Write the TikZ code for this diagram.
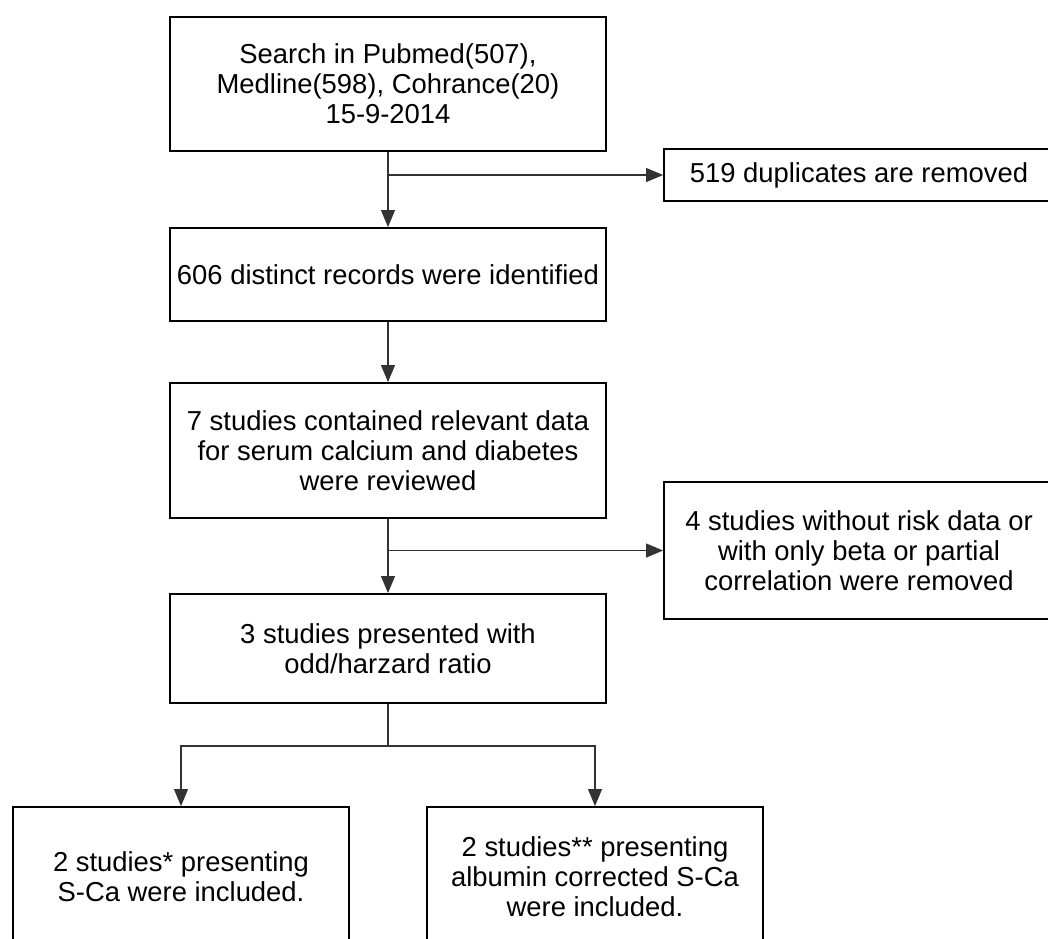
\documentclass[tikz,border=0pt]{standalone}
\usepackage{fontspec}
\setmainfont{Liberation Sans}
\usetikzlibrary{arrows.meta}
\tikzset{%
  flowbox/.style  = {shape=rectangle, draw, line width=1.1pt, align=center,%
                     inner sep=0pt, minimum width=8.74cm,%
                     font=\fontsize{15.6}{17}\selectfont},%
  sidebox/.style  = {flowbox, minimum width=7.8cm},%
  endbox/.style   = {flowbox, minimum width=6.72cm, minimum height=2.8cm},%
  flowarrow/.style = {draw=black!80, line width=0.6pt,%
                      -{Triangle[length=0.34cm,width=0.28cm]}}%
}
\begin{document}
\begin{tikzpicture}[x=0.02cm,y=-0.02cm]
	\useasboundingbox [fill=white] (0,0) rectangle (1048,938);
	\clip (0,0) rectangle (1048,938);
		\node [flowbox, minimum height=2.68cm] (search) at (388,84)
			{Search in Pubmed(507),\\Medline(598), Cohrance(20)\\15-9-2014};
		\node [sidebox, minimum height=1.04cm] (dupl) at (859,175)
			{519 duplicates are removed};
		\node [flowbox, minimum height=1.86cm] (distinct) at (388,274.5)
			{606 distinct records were identified};
		\node [flowbox, minimum height=2.7cm] (relevant) at (388,450.5)
			{7 studies contained relevant data\\for serum calcium and diabetes\\were reviewed};
		\node [sidebox, minimum height=2.74cm] (norisk) at (859,550.5)
			{4 studies without risk data or\\with only beta or partial\\correlation were removed};
		\node [flowbox, minimum height=2.18cm] (ratio) at (388,648.5)
			{3 studies presented with\\odd/harzard ratio};
		\node [endbox] (sca) at (181,877)
			{2 studies* presenting\\S-Ca were included.};
		\node [endbox] (albsca) at (595,877)
			{2 studies** presenting\\albumin corrected S-Ca\\were included.};
		\coordinate (split) at (388,746);
	% main flow and side branches
		\draw [flowarrow] (search) -- (distinct);
		\draw [flowarrow] (search.south |- dupl.west) -- (dupl.west);
		\draw [flowarrow] (distinct) -- (relevant);
		\draw [flowarrow] (relevant) -- (ratio);
		\draw [flowarrow] (relevant.south |- norisk.west) -- (norisk.west);
		\draw [draw=black!80, line width=0.6pt] (ratio) -- (split);
		\draw [flowarrow] (split) -| (sca);
		\draw [flowarrow] (split) -| (albsca);
	\end{tikzpicture}
\end{document}
